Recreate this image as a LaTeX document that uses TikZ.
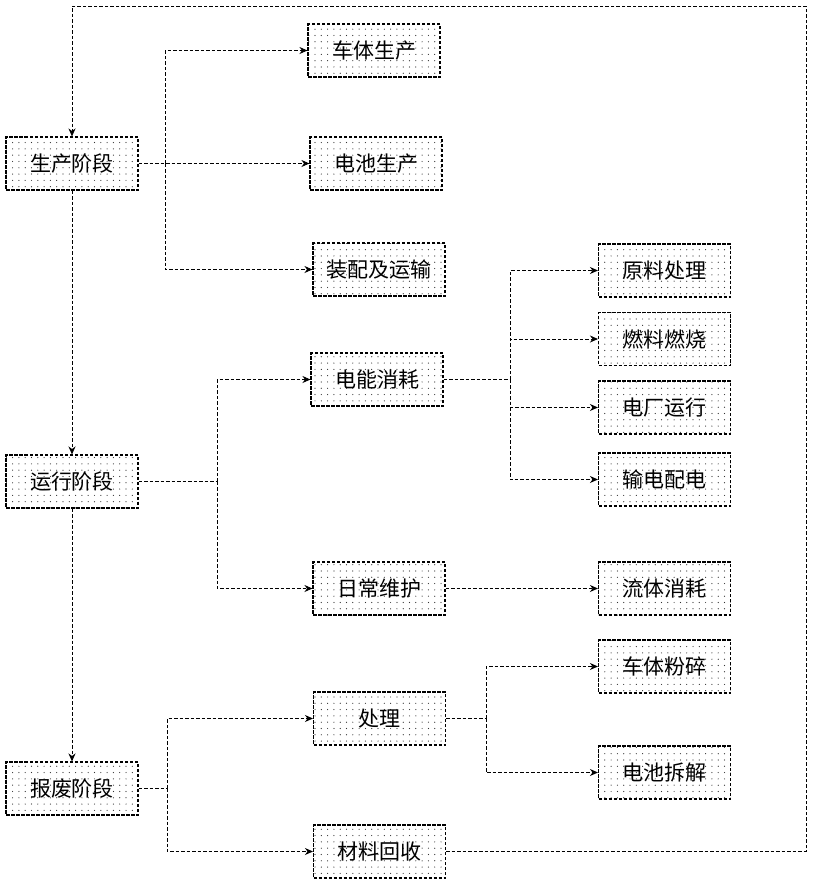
\documentclass[tikz,border=0pt]{standalone}
\usepackage{fontspec}
\setmainfont{Noto Sans CJK SC}
\usetikzlibrary{arrows.meta,patterns}
\pgfdeclarepatternformonly{sdots}{\pgfqpoint{-1pt}{-1pt}}{\pgfqpoint{1pt}{1pt}}{\pgfqpoint{6.3pt}{6.3pt}}{\pgfpathcircle{\pgfqpoint{0pt}{0pt}}{0.6pt}\pgfusepath{fill}}
\tikzset{
  box/.style={draw=black, line width=1.1pt, dash pattern=on 3.5pt off 1.5pt, minimum width=132pt, minimum height=53pt, inner sep=0pt,
    pattern=sdots, pattern color=black!80, font=\fontsize{21}{24}\selectfont},
  conn/.style={draw=black, line width=0.9pt, dash pattern=on 3.5pt off 2pt},
  arr/.style={conn, -{Stealth[length=8pt,width=7pt]}}
}
\begin{document}
\begin{tikzpicture}[x=1pt,y=-1pt]
\useasboundingbox (0,0) rectangle (813,886);
\fill[white] (0,0) rectangle (813,886);
% main stages
\node[box] (p) at (72,163.5) {生产阶段};
\node[box] (r) at (72,481.5) {运行阶段};
\node[box] (s) at (72,788.5) {报废阶段};
% production
\node[box] (p1) at (374,50.5) {车体生产};
\node[box] (p2) at (376,163.5) {电池生产};
\node[box] (p3) at (379,269.5) {装配及运输};
% operation
\node[box] (r1) at (377,379.5) {电能消耗};
\node[box] (r2) at (379,588.5) {日常维护};
\node[box] (e1) at (664.5,270.5) {原料处理};
\node[box] (e2) at (664.5,339) {燃料燃烧};
\node[box] (e3) at (664.5,407.5) {电厂运行};
\node[box] (e4) at (664.5,479.5) {输电配电};
\node[box] (m1) at (664.5,588.5) {流体消耗};
% scrap
\node[box] (s1) at (379.5,718.5) {处理};
\node[box] (s2) at (379.5,851.5) {材料回收};
\node[box] (d1) at (664.5,666.5) {车体粉碎};
\node[box] (d2) at (664.5,772.5) {电池拆解};
% coordinates
\coordinate (loopR) at (806,6);
% stage chain
\draw[arr] (p) -- (r);
\draw[arr] (r) -- (s);
\draw[arr] (s2.east) -| (loopR) -| (p.north);
% production branches
\draw[arr] (p.east) -- (p2.west);
\draw[arr] (p2.west -| 165,0) |- (p1.west);
\draw[arr] (p2.west -| 165,0) |- (p3.west);
% operation branches
\draw[conn] (r.east) -- (217,481.5);
\draw[arr] (217,481.5) |- (r1.west);
\draw[arr] (217,481.5) |- (r2.west);
\draw[conn] (r1.east) -- (510,379.5);
\draw[arr] (510,379.5) |- (e1.west);
\draw[arr] (510,379.5) |- (e2.west);
\draw[arr] (510,379.5) |- (e3.west);
\draw[arr] (510,379.5) |- (e4.west);
\draw[arr] (r2.east) -- (m1.west);
% scrap branches
\draw[conn] (s.east) -- (167,788.5);
\draw[arr] (167,788.5) |- (s1.west);
\draw[arr] (167,788.5) |- (s2.west);
\draw[conn] (s1.east) -- (486,718.5);
\draw[arr] (486,718.5) |- (d1.west);
\draw[arr] (486,718.5) |- (d2.west);
\end{tikzpicture}
\end{document}
